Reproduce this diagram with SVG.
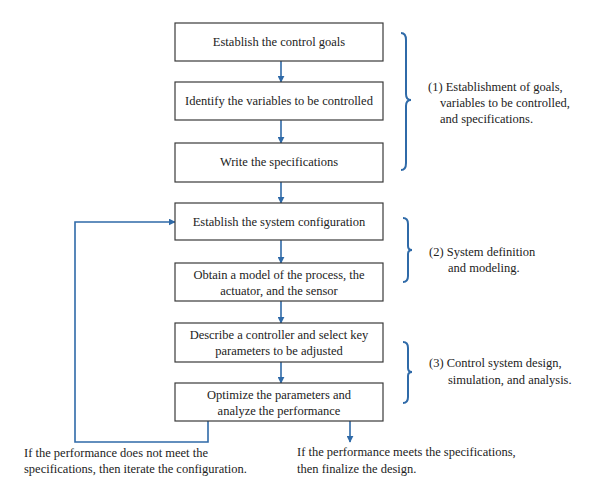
<svg xmlns="http://www.w3.org/2000/svg" width="602" height="495" viewBox="0 0 602 495">
<defs>
<marker id="ah" viewBox="0 0 10 10" refX="9" refY="5" markerWidth="7" markerHeight="7" markerUnits="userSpaceOnUse" orient="auto">
<path d="M0,0 L10,5 L0,10 z" fill="#2f6aa8"/>
</marker>
<style>
.box{fill:#fff;stroke:#3a3a3a;stroke-width:1.2}
.t{font-family:"Liberation Serif","Times New Roman",serif;font-size:12.5px;fill:#222;text-anchor:middle}
.l{font-family:"Liberation Serif","Times New Roman",serif;font-size:12.5px;fill:#222}
.c{fill:none;stroke:#2f6aa8;stroke-width:1.6}
.br{fill:none;stroke:#2f6aa8;stroke-width:2}
</style>
</defs>
<rect width="602" height="495" fill="#fff"/>
<g id="connectors">
<line class="c" x1="281" y1="61" x2="281" y2="82" marker-end="url(#ah)"/>
<line class="c" x1="281" y1="120" x2="281" y2="143" marker-end="url(#ah)"/>
<line class="c" x1="281" y1="182" x2="281" y2="203" marker-end="url(#ah)"/>
<line class="c" x1="281" y1="240" x2="281" y2="263" marker-end="url(#ah)"/>
<line class="c" x1="281" y1="301" x2="281" y2="323" marker-end="url(#ah)"/>
<line class="c" x1="281" y1="362" x2="281" y2="383" marker-end="url(#ah)"/>
<polyline class="c" points="208,421 208,442 75,442 75,222 175,222" marker-end="url(#ah)"/>
<line class="c" x1="350" y1="421" x2="350" y2="442" marker-end="url(#ah)"/>
</g>
<g id="n1"><rect class="box" x="175" y="23" width="208" height="38"/><text class="t" x="279" y="46">Establish the control goals</text></g>
<g id="n2"><rect class="box" x="175" y="82" width="208" height="38"/><text class="t" x="279" y="105">Identify the variables to be controlled</text></g>
<g id="n3"><rect class="box" x="175" y="143" width="208" height="39"/><text class="t" x="279" y="166">Write the specifications</text></g>
<g id="n4"><rect class="box" x="175" y="203" width="208" height="37"/><text class="t" x="279" y="226">Establish the system configuration</text></g>
<g id="n5"><rect class="box" x="175" y="263" width="208" height="38"/><text class="t" x="279" y="279">Obtain a model of the process, the</text><text class="t" x="279" y="295">actuator, and the sensor</text></g>
<g id="n6"><rect class="box" x="175" y="323" width="208" height="39"/><text class="t" x="279" y="339">Describe a controller and select key</text><text class="t" x="279" y="355">parameters to be adjusted</text></g>
<g id="n7"><rect class="box" x="175" y="383" width="208" height="38"/><text class="t" x="279" y="399">Optimize the parameters and</text><text class="t" x="279" y="415">analyze the performance</text></g>
<g id="braces">
<path class="br" d="M401,33 Q406,33 406,40 L406,94 Q406,100 411,100 Q406,100 406,106 L406,163 Q406,170 401,170"/>
<path class="br" d="M403,218 Q408,218 408,224 L408,246 Q408,250 412,250 Q408,250 408,254 L408,276 Q408,282 403,282"/>
<path class="br" d="M403,342 Q408,342 408,348 L408,368 Q408,372 412,372 Q408,372 408,376 L408,397 Q408,403 403,403"/>
</g>
<g id="labels">
<text class="l" x="428" y="91">(1) Establishment of goals,</text>
<text class="l" x="440" y="107">variables to be controlled,</text>
<text class="l" x="440" y="123">and specifications.</text>
<text class="l" x="429" y="256">(2) System definition</text>
<text class="l" x="448" y="272">and modeling.</text>
<text class="l" x="429" y="367">(3) Control system design,</text>
<text class="l" x="448" y="384">simulation, and analysis.</text>
<text class="l" x="24" y="457">If the performance does not meet the</text>
<text class="l" x="24" y="473">specifications, then iterate the configuration.</text>
<text class="l" x="297" y="456">If the performance meets the specifications,</text>
<text class="l" x="297" y="473">then finalize the design.</text>
</g>
</svg>
